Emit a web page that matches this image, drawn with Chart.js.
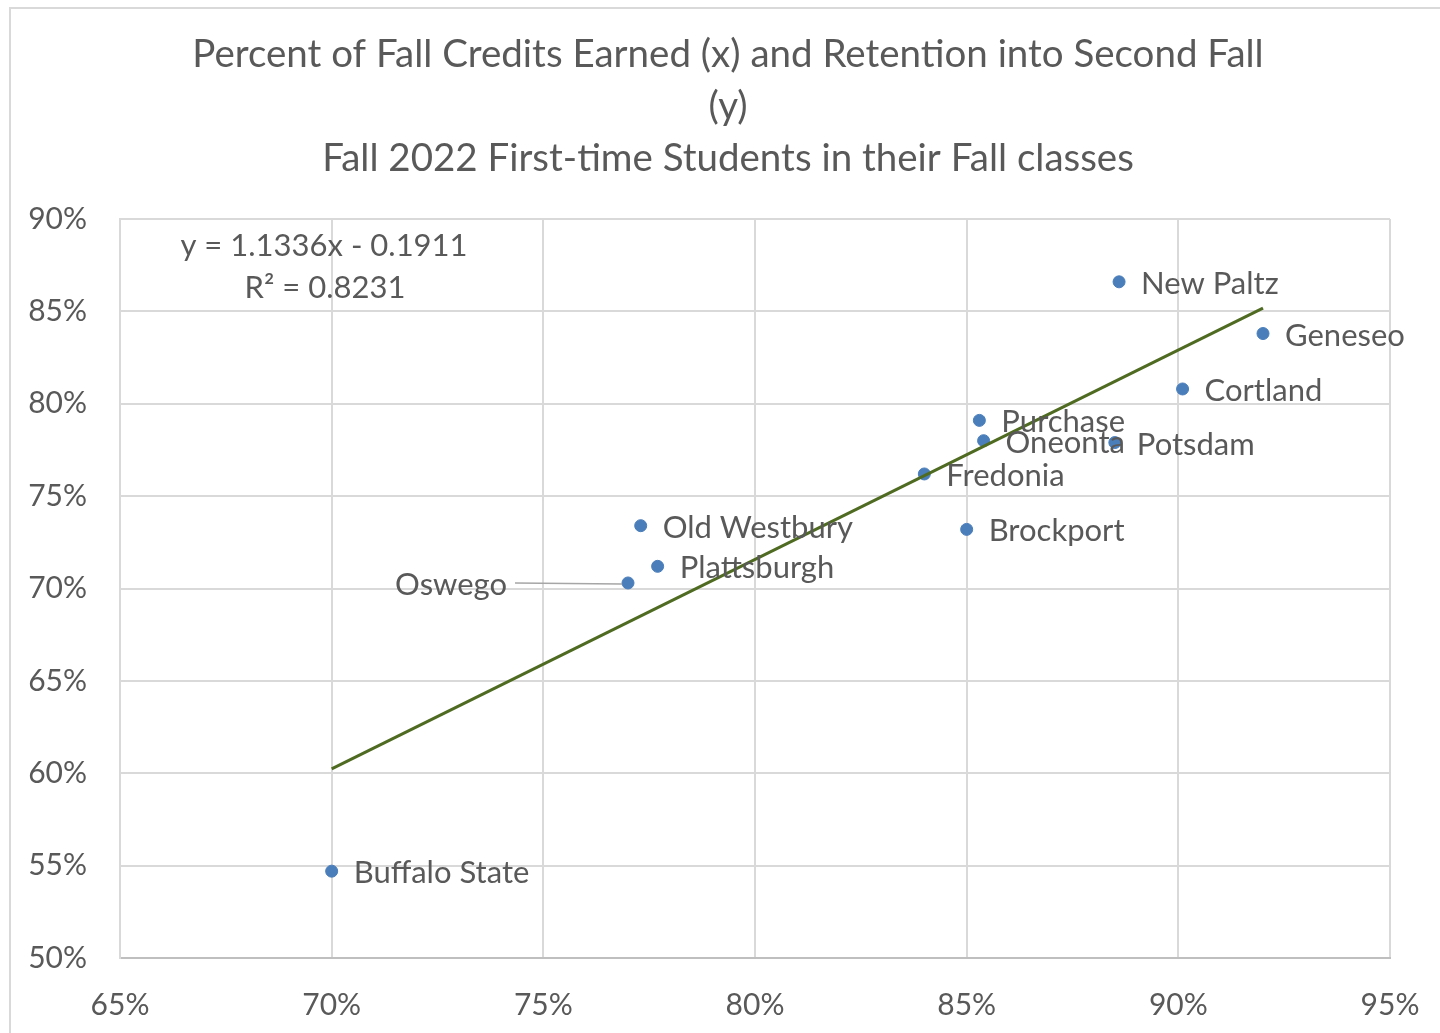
<!DOCTYPE html>
<html>
<head>
<meta charset="utf-8">
<script src="https://cdn.jsdelivr.net/npm/chart.js@4.4.1/dist/chart.umd.min.js"></script>
<style>
  html, body { margin: 0; padding: 0; background: #fff; }
  #wrap { width: 1440px; height: 1033px; position: relative; }
</style>
</head>
<body>
<div id="wrap"><canvas id="myChart" width="1440" height="1033"></canvas></div>
<script>
// campuses and values
const campuses = ['New Paltz', 'Geneseo', 'Cortland', 'Purchase', 'Oneonta', 'Potsdam',
  'Fredonia', 'Brockport', 'Old Westbury', 'Plattsburgh', 'Oswego', 'Buffalo State'];
const creditsEarned = [0.886, 0.920, 0.901, 0.853, 0.854, 0.885, 0.840, 0.850, 0.773, 0.777, 0.770, 0.700];
const retention = [0.866, 0.838, 0.808, 0.791, 0.780, 0.779, 0.762, 0.732, 0.734, 0.712, 0.703, 0.547];

// linear trendline end points (y = 1.1336x - 0.1911)
const trendX = [0.70, 0.92];
const trendY = [0.6024, 0.8518];

const xTicks = [0.65, 0.70, 0.75, 0.80, 0.85, 0.90, 0.95];
const yTicks = [0.50, 0.55, 0.60, 0.65, 0.70, 0.75, 0.80, 0.85, 0.90];

const titleLines = [
  'Percent of Fall Credits Earned (x) and Retention into Second Fall',
  '(y)',
  'Fall 2022 First-time Students in their Fall classes'
];
const equationLines = ['y = 1.1336x - 0.1911', 'R² = 0.8231'];

const FONT = 'Lato, "Noto Sans", sans-serif';
const TEXT = '#595959';
const GRID = '#d9d9d9';

const pct = v => Math.round(v * 100) + '%';

// frame + title + equation + point labels
const decor = {
  id: 'decor',
  beforeDraw(chart) {
    const c = chart.ctx;
    c.save();
    c.fillStyle = '#fff';
    c.fillRect(0, 0, chart.width, chart.height);
    c.strokeStyle = GRID;
    c.lineWidth = 2;
    c.strokeRect(10, 8, chart.width + 20, chart.height + 20);
    c.restore();
  },
  afterDraw(chart) {
    const c = chart.ctx;
    const area = chart.chartArea;
    c.save();
    c.fillStyle = TEXT;
    c.textBaseline = 'middle';
    c.textAlign = 'center';
    c.font = '38.5px ' + FONT;
    titleLines.forEach((t, i) => c.fillText(t, 728, 55 + i * 52));

    c.font = '31px ' + FONT;
    c.fillText(equationLines[0], area.left + 204, area.top + 27);
    c.fillText(equationLines[1], area.left + 205, area.top + 69);

    const meta = chart.getDatasetMeta(0);
    c.font = '31px ' + FONT;
    c.textAlign = 'left';
    meta.data.forEach((p, i) => {
      const name = campuses[i];
      if (name === 'Oswego') {
        c.strokeStyle = '#a6a6a6';
        c.lineWidth = 1.5;
        c.beginPath();
        c.moveTo(p.x - 113, p.y);
        c.lineTo(p.x - 6, p.y + 1);
        c.stroke();
        c.textAlign = 'right';
        c.fillText(name, p.x - 121, p.y + 2);
        c.textAlign = 'left';
      } else {
        c.fillText(name, p.x + 22, p.y + 2);
      }
    });
    c.restore();
  }
};

new Chart(document.getElementById('myChart'), {
  type: 'scatter',
  plugins: [decor],
  data: {
    datasets: [
      {
        label: 'Campuses',
        data: creditsEarned.map((x, i) => ({ x: x, y: retention[i] })),
        backgroundColor: '#4a7ebb',
        borderColor: '#4a7ebb',
        pointRadius: 6,
        order: 2
      },
      {
        label: 'Linear trend',
        type: 'line',
        data: trendX.map((x, i) => ({ x: x, y: trendY[i] })),
        borderColor: '#4f6b22',
        borderWidth: 3,
        pointRadius: 0,
        fill: false,
        order: 1
      }
    ]
  },
  options: {
    responsive: false,
    animation: false,
    layout: { padding: { top: 219, right: 50, left: 0, bottom: 0 } },
    plugins: {
      legend: { display: false },
      title: { display: false },
      tooltip: { enabled: false }
    },
    scales: {
      x: {
        type: 'linear',
        min: 0.65,
        max: 0.95,
        afterBuildTicks: axis => { axis.ticks = xTicks.map(v => ({ value: v })); },
        afterFit: axis => { axis.height = 75; axis.paddingLeft = 0; axis.paddingRight = 0; },
        ticks: {
          callback: v => pct(v),
          color: TEXT,
          font: { family: FONT, size: 30 },
          padding: 29,
          maxRotation: 0
        },
        grid: { color: GRID, lineWidth: 2, drawTicks: false },
        border: { color: '#bfbfbf', width: 2 }
      },
      y: {
        type: 'linear',
        min: 0.50,
        max: 0.90,
        afterBuildTicks: axis => { axis.ticks = yTicks.map(v => ({ value: v })); },
        afterFit: axis => { axis.width = 120; axis.paddingTop = 0; axis.paddingBottom = 0; },
        ticks: {
          callback: v => pct(v),
          color: TEXT,
          font: { family: FONT, size: 30 },
          padding: 33
        },
        grid: { color: GRID, lineWidth: 2, drawTicks: false },
        border: { color: GRID, width: 2 }
      }
    }
  }
});
</script>
</body>
</html>
